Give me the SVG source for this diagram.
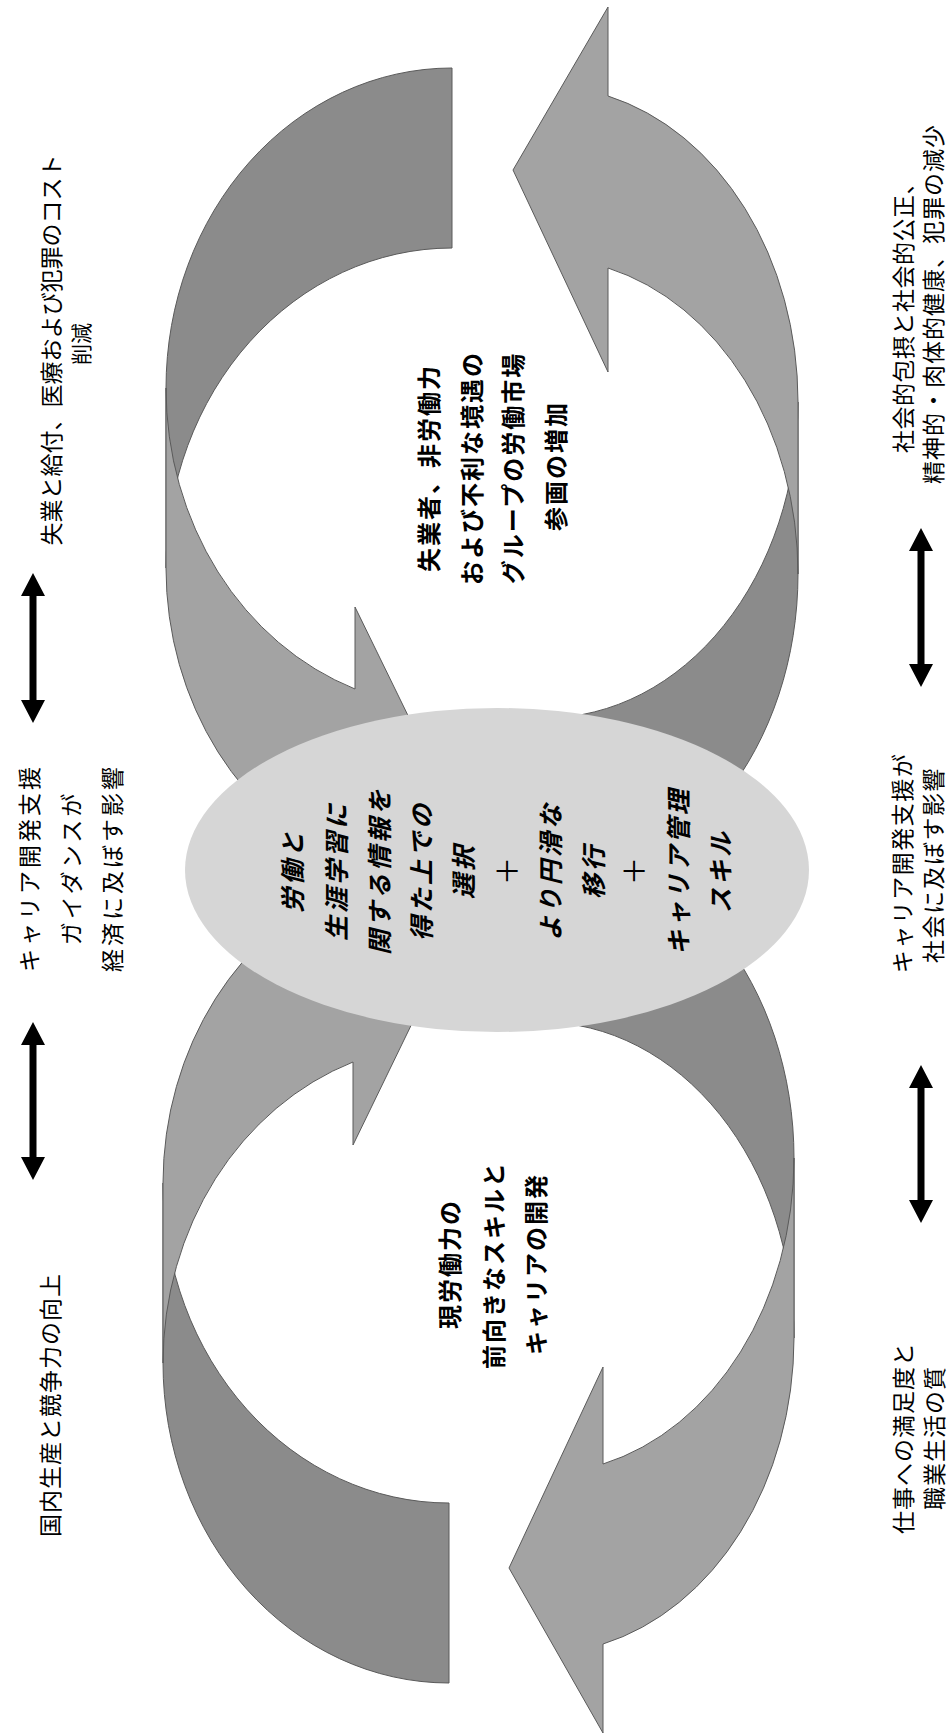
<svg xmlns="http://www.w3.org/2000/svg" width="952" height="1736" viewBox="0 0 952 1736">
<style>
.back{fill:#8b8b8b;stroke:#5a5a5a;stroke-width:1}
.front{fill:#a3a3a3;stroke:#5a5a5a;stroke-width:1}
.dbl{fill:#000}
.t{font-family:"Noto Sans CJK JP","Noto Sans CJK SC",sans-serif;font-size:23px;fill:#000;text-anchor:middle;dominant-baseline:central}
.b{font-weight:bold;font-size:24px;letter-spacing:2px}
.e{font-weight:bold;font-style:italic;font-size:25px;letter-spacing:3px}
.p{font-weight:normal;font-style:normal;font-size:28px;letter-spacing:0}
</style>
<rect width="952" height="1736" fill="#fff"/>
<g id="cycle-arrows">
  <path class="back" d="M452,68 A286,320 0 0 0 166,388 L166,568 A286,320 0 0 1 452,248 Z"/>
  <path class="back" d="M798,574 A253,316 0 0 1 545,890 L545,718 A253,316 0 0 0 798,402 Z"/>
  <path class="back" d="M449,1683 A286,320 0 0 1 163,1363 L163,1183 A286,320 0 0 0 449,1503 Z"/>
  <path class="back" d="M794,1158 A253,316 0 0 0 541,842 L541,1022 A253,316 0 0 1 794,1338 Z"/>
  <path class="front" d="M166,388 A286,320 0 0 0 355,689 L355,607 L439,779 L355,951 L355,869 A286,320 0 0 1 166,568 Z"/>
  <path class="front" d="M798,402 A253,316 0 0 0 608,96 L608,7 L513,170 L608,372 L608,268 A253,316 0 0 1 798,574 Z"/>
  <path class="front" d="M163,1363 A286,320 0 0 1 353,1062 L353,1145 L437,972 L353,800 L353,882 A286,320 0 0 0 163,1183 Z"/>
  <path class="front" d="M794,1338 A253,316 0 0 1 603,1644 L603,1733 L509,1568 L603,1367 L603,1464 A253,316 0 0 0 794,1158 Z"/>
</g>
<g id="connectors">
  <path class="dbl" d="M33,573 L45,596 L36.5,596 L36.5,700 L45,700 L33,723 L21,700 L29.5,700 L29.5,596 L21,596 Z"/>
  <path class="dbl" d="M33,1022 L45,1045 L36.5,1045 L36.5,1157 L45,1157 L33,1180 L21,1157 L29.5,1157 L29.5,1045 L21,1045 Z"/>
  <path class="dbl" d="M921,528 L933,551 L924.5,551 L924.5,664 L933,664 L921,687 L909,664 L917.5,664 L917.5,551 L909,551 Z"/>
  <path class="dbl" d="M921,1065 L933,1088 L924.5,1088 L924.5,1200 L933,1200 L921,1223 L909,1200 L917.5,1200 L917.5,1088 L909,1088 Z"/>
</g>
<g id="center-ellipse">
  <ellipse cx="497" cy="870" rx="312" ry="162" fill="#d6d6d6"/>
  <text class="t e" transform="translate(291,871) rotate(-90)">労働と</text>
  <text class="t e" transform="translate(335,871) rotate(-90)">生涯学習に</text>
  <text class="t e" transform="translate(378,871) rotate(-90)">関する情報を</text>
  <text class="t e" transform="translate(420,871) rotate(-90)">得た上での</text>
  <text class="t e" transform="translate(462,871) rotate(-90)">選択</text>
  <text class="t p" transform="translate(506,871) rotate(-90)">＋</text>
  <text class="t e" transform="translate(549,871) rotate(-90)">より円滑な</text>
  <text class="t e" transform="translate(592,871) rotate(-90)">移行</text>
  <text class="t p" transform="translate(633,871) rotate(-90)">＋</text>
  <text class="t e" transform="translate(677,871) rotate(-90)">キャリア管理</text>
  <text class="t e" transform="translate(719,871) rotate(-90)">スキル</text>
</g>
<g id="upper-center">
  <text class="t b" transform="translate(427,468) rotate(-90)">失業者、非労働力</text>
  <text class="t b" transform="translate(470,468) rotate(-90)">および不利な境遇の</text>
  <text class="t b" transform="translate(511,468) rotate(-90)">グループの労働市場</text>
  <text class="t b" transform="translate(554,466) rotate(-90)">参画の増加</text>
</g>
<g id="lower-center">
  <text class="t b" transform="translate(448,1264) rotate(-90)">現労働力の</text>
  <text class="t b" transform="translate(492,1265) rotate(-90)">前向きなスキルと</text>
  <text class="t b" transform="translate(534,1264) rotate(-90)">キャリアの開発</text>
</g>
<g id="left-top">
  <text class="t" transform="translate(50,350) rotate(-90)">失業と給付、医療および犯罪のコスト</text>
  <text class="t" style="font-size:21px" transform="translate(80,344) rotate(-90)">削減</text>
</g>
<g id="left-middle">
  <text class="t" style="letter-spacing:3px" transform="translate(28,868) rotate(-90)">キャリア開発支援</text>
  <text class="t" style="letter-spacing:3px" transform="translate(70,868) rotate(-90)">ガイダンスが</text>
  <text class="t" style="letter-spacing:3px" transform="translate(111,868) rotate(-90)">経済に及ぼす影響</text>
</g>
<g id="left-bottom">
  <text class="t" style="letter-spacing:1px" transform="translate(49,1405) rotate(-90)">国内生産と競争力の向上</text>
</g>
<g id="right-top">
  <text class="t" style="letter-spacing:0.5px" transform="translate(902,312) rotate(-90)">社会的包摂と社会的公正、</text>
  <text class="t" style="letter-spacing:1px" transform="translate(932,304) rotate(-90)">精神的・肉体的健康、犯罪の減少</text>
</g>
<g id="right-middle">
  <text class="t" style="letter-spacing:1.5px" transform="translate(901,863) rotate(-90)">キャリア開発支援が</text>
  <text class="t" style="letter-spacing:1.5px" transform="translate(932,865) rotate(-90)">社会に及ぼす影響</text>
</g>
<g id="right-bottom">
  <text class="t" style="letter-spacing:1px" transform="translate(902,1438) rotate(-90)">仕事への満足度と</text>
  <text class="t" style="letter-spacing:1px" transform="translate(933,1438) rotate(-90)">職業生活の質</text>
</g>
</svg>
